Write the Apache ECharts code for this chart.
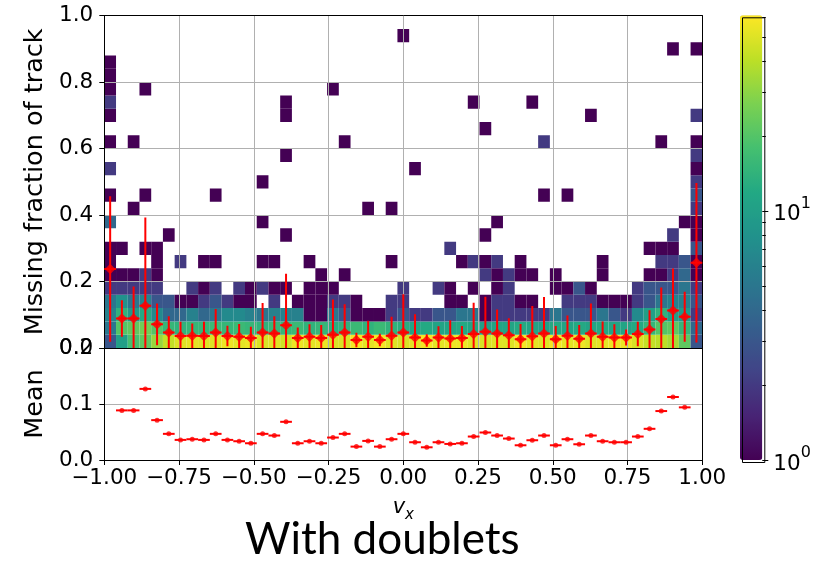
<!DOCTYPE html>
<html><head><meta charset="utf-8">
<script src="https://cdn.jsdelivr.net/npm/echarts@6/dist/echarts.min.js"></script>
<style>html,body{margin:0;padding:0;background:#fff}#c{width:823px;height:561px}</style>
</head><body><div id="c"></div>
<script>
// ---------------- data ----------------
const nXBins = 51;              // v_x bins over [-1, 1]
const nYBins = 25;              // missing-fraction bins over [0, 1]
const xRange = [-1, 1];
const yRange = [0, 1];
const colorbarMax = 61;         // top of the log colour scale

// counts of the 2D histogram, lowest five rows (0-0.04, ..., 0.16-0.20)
const countsRow0 = [3,10,18,22,32,42,50,52,50,50,55,52,55,48,50,45,55,52,55,48,48,58,52,58,50,48,52,58,52,55,55,50,48,50,50,58,52,50,58,52,55,50,52,55,55,48,42,40,35,22,3];
const countsRow1 = [5,20,22,25,20,15,14,15,15,16,15,16,15,14,15,15,16,14,15,13,14,16,14,16,14,13,11,12,11,11,12,11,10,11,11,12,11,10,12,11,12,11,12,11,11,12,15,20,22,15,4];
const countsRow2 = [6,14,9,12,7,4,4,6,4,5,7,7,6,5,6,6,6,1,1,5,3,1,1,1,2,3,2,2,3,3,5,5,1,2,2,2,2,2,5,3,3,3,5,3,2,7,10,14,10,9,2];
const countsRow3 = [5,8,5,6,3,3,1,1,2,3,2,1,1,0,2,0,1,1,1,2,2,1,0,0,2,2,0,0,0,1,1,0,1,2,2,1,1,0,0,2,2,2,1,1,1,2,3,5,6,6,3];
const countsRow4 = [2,2,2,2,2,0,0,2,1,2,0,2,1,2,1,1,0,1,1,1,0,0,0,0,0,2,0,0,2,1,0,1,0,1,2,0,0,0,1,1,3,1,0,0,0,2,3,3,3,5,2];
// sparse upper cells: [xBin, yBin, count]
const upperCells = [
 [0,5,1],[1,5,1],[2,5,1],[3,5,2],[4,5,1],[18,5,1],[20,5,1],[32,5,2],[33,5,1],[34,5,2],[35,5,1],[36,5,1],[38,5,1],[42,5,1],[46,5,1],[47,5,1],[48,5,2],[49,5,4],[50,5,1],
 [0,6,1],[4,6,1],[6,6,2],[8,6,1],[9,6,1],[13,6,1],[14,6,1],[17,6,1],[24,6,1],[30,6,1],[31,6,2],[32,6,1],[33,6,2],[35,6,1],[42,6,1],[47,6,2],[48,6,2],[49,6,3],[50,6,1],
 [0,7,1],[1,7,1],[3,7,1],[4,7,1],[29,7,2],[46,7,1],[47,7,1],[48,7,1],[50,7,3],
 [5,8,1],[15,8,1],[32,8,1],[48,8,2],[50,8,1],
 [0,9,4],[13,9,1],[33,9,1],[49,9,1],[50,9,1],
 [2,10,1],[22,10,1],[24,10,1],[50,10,2],
 [0,11,1],[3,11,1],[9,11,1],[37,11,1],[39,11,1],[50,11,3],
 [13,12,1],[50,12,2],
 [0,13,2],[26,13,1],[50,13,1],
 [15,14,1],[50,14,2],
 [0,15,1],[2,15,1],[20,15,1],[37,15,2],[47,15,1],[50,15,1],
 [32,16,1],
 [0,17,1],[15,17,1],[41,17,1],[50,17,2],
 [0,18,2],[15,18,1],[31,18,1],[36,18,1],
 [0,19,1],[3,19,1],[19,19,1],
 [0,20,1],[0,21,1],
 [48,22,1],[50,22,1],
 [25,23,1]
];
// profile: mean and std of missing fraction per v_x bin
const profileMean = [0.2376,0.0886,0.0886,0.127,0.0712,0.0467,0.0359,0.0371,0.0359,0.0467,0.0359,0.0335,0.0299,0.0467,0.0437,0.0682,0.0299,0.0335,0.0299,0.0401,0.0467,0.0239,0.0341,0.0239,0.0371,0.0467,0.0317,0.0227,0.0317,0.0287,0.0299,0.0419,0.0491,0.0437,0.0383,0.0263,0.0353,0.0437,0.0263,0.0371,0.0281,0.0437,0.0335,0.0317,0.0317,0.0419,0.0557,0.0874,0.1125,0.0940,0.2566];
const profileStd = [0.219,0.055,0.0965,0.266,0.063,0.049,0.043,0.037,0.043,0.071,0.031,0.039,0.034,0.089,0.052,0.155,0.032,0.038,0.039,0.106,0.085,0.022,0.048,0.019,0.057,0.115,0.070,0.019,0.034,0.055,0.036,0.094,0.105,0.072,0.051,0.046,0.091,0.110,0.040,0.061,0.041,0.090,0.046,0.040,0.024,0.037,0.058,0.095,0.127,0.075,0.240];
const colorbarMinor = [2,3,4,5,6,7,8,9,20,30,40,50,60];
const colorbarMajor = [1,10];

// ---------------- derived ----------------
const xBinW = (xRange[1]-xRange[0])/nXBins;
const yBinW = (yRange[1]-yRange[0])/nYBins;
const countRows = [countsRow0,countsRow1,countsRow2,countsRow3,countsRow4];
const cellData = [];
function addCell(i,j,c){
  if(c<=0) return;
  const x0 = xRange[0]+i*xBinW, y0 = yRange[0]+j*yBinW;
  cellData.push([x0, x0+xBinW, y0, y0+yBinW, Math.log10(c), c]);
}
countRows.forEach((row,j)=>row.forEach((c,i)=>addCell(i,j,c)));
upperCells.forEach(([i,j,c])=>addCell(i,j,c));
const centers = profileMean.map((_,i)=>xRange[0]+(i+0.5)*xBinW);
const profData = profileMean.map((m,i)=>[centers[i], m, profileStd[i], xBinW/2]);
const meanPts = profileMean.map((m,i)=>[centers[i], m]);

const viridis = ['#440154','#482475','#414487','#355f8d','#2a788e','#21918c','#22a884','#44bf70','#7ad151','#bddf26','#fde725'];
const FONT = 'DejaVu Sans';
const RED = '#ff0000';
const GRIDC = '#b0b0b0';
const fmtMinus = v => (v<0?'\u2212':'') + Math.abs(v).toFixed(2);

const G0 = {left:104.3, top:15.7, width:598, height:332.3};
const G1 = {left:104.3, top:348, width:598, height:112};
const GC = {left:740, top:15.3, width:22.3, height:444.7};

const chart = echarts.init(document.getElementById('c'), null, {renderer:'canvas'});
const TFS = 21.5;
const tickLbl = {fontFamily:FONT, fontSize:TFS, color:'#000'};
const cbLog = v => Math.log10(v);
const frameLine = {show:true, onZero:false, lineStyle:{color:'#000', width:1}};

const option = {
  animation:false,
  backgroundColor:'#fff',
  grid:[
    Object.assign({containLabel:false}, G0),
    Object.assign({containLabel:false}, G1),
    Object.assign({containLabel:false}, GC)
  ],
  xAxis:[
    {type:'value', gridIndex:0, min:-1, max:1, interval:0.25, z:3,
     axisLine:frameLine, axisTick:{show:false}, axisLabel:{show:false},
     splitLine:{show:true, lineStyle:{color:GRIDC, width:1}}},
    {type:'value', gridIndex:0, min:-1, max:1, position:'top', z:3,
     axisLine:frameLine, axisTick:{show:false}, axisLabel:{show:false}, splitLine:{show:false}},
    {type:'value', gridIndex:1, min:-1, max:1, interval:0.25, z:3,
     axisLine:frameLine,
     axisTick:{show:true, length:5, lineStyle:{color:'#000'}},
     axisLabel:Object.assign({margin:7, formatter:fmtMinus}, tickLbl),
     splitLine:{show:true, lineStyle:{color:GRIDC, width:1}},
     name:'{v|v}{s|x}', nameLocation:'middle', nameGap:37,
     nameTextStyle:{rich:{
       v:{fontFamily:FONT, fontStyle:'italic', fontSize:21, color:'#000', lineHeight:26, verticalAlign:'top'},
       s:{fontFamily:FONT, fontStyle:'italic', fontSize:15, color:'#000', lineHeight:15, verticalAlign:'bottom'}}}},
    {type:'value', gridIndex:2, min:0, max:1, show:false}
  ],
  yAxis:[
    {type:'value', gridIndex:0, min:0, max:1, interval:0.2, z:3,
     axisLine:frameLine,
     axisTick:{show:true, length:5, lineStyle:{color:'#000'}},
     axisLabel:Object.assign({margin:11, formatter:v=>v.toFixed(1)}, tickLbl),
     splitLine:{show:true, lineStyle:{color:GRIDC, width:1}},
     name:'Missing fraction of track', nameLocation:'middle', nameRotate:90, nameGap:50,
     nameTextStyle:{fontFamily:FONT, fontSize:25.5, color:'#000'}},
    {type:'value', gridIndex:0, min:0, max:1, position:'right', z:3,
     axisLine:frameLine, axisTick:{show:false}, axisLabel:{show:false}, splitLine:{show:false}},
    {type:'value', gridIndex:1, min:0, max:0.2, interval:0.1, z:3,
     axisLine:frameLine,
     axisTick:{show:true, length:5, lineStyle:{color:'#000'}},
     axisLabel:Object.assign({margin:11, formatter:v=>v.toFixed(1)}, tickLbl),
     splitLine:{show:true, lineStyle:{color:GRIDC, width:1}},
     name:'Mean', nameLocation:'middle', nameRotate:90, nameGap:50,
     nameTextStyle:{fontFamily:FONT, fontSize:25.5, color:'#000'}},
    {type:'value', gridIndex:1, min:0, max:0.2, position:'right', z:3,
     axisLine:frameLine, axisTick:{show:false}, axisLabel:{show:false}, splitLine:{show:false}},
    {type:'value', gridIndex:2, min:0, max:cbLog(colorbarMax), position:'right', z:6,
     axisLine:{show:false, onZero:false}, splitLine:{show:false},
     axisTick:{show:true, length:6, customValues:colorbarMajor.map(cbLog), lineStyle:{color:'#000'}},
     axisLabel:{show:true, margin:11, customValues:colorbarMajor.map(cbLog),
       formatter:v=>'{b|10}{s|'+Math.round(v)+'}',
       rich:{b:{fontFamily:FONT, fontSize:TFS, color:'#000', lineHeight:30, verticalAlign:'bottom'},
             s:{fontFamily:FONT, fontSize:16, color:'#000', lineHeight:16, verticalAlign:'top'}}}},
    {type:'value', gridIndex:2, min:0, max:cbLog(colorbarMax), position:'right', z:6,
     axisLine:{show:false, onZero:false}, splitLine:{show:false}, axisLabel:{show:false},
     axisTick:{show:true, length:3.5, customValues:colorbarMinor.map(cbLog), lineStyle:{color:'#000'}}}
  ],
  visualMap:{
    type:'continuous', seriesIndex:0, dimension:4, min:0, max:cbLog(colorbarMax),
    inRange:{color:viridis}, calculable:false, hoverLink:false,
    left:GC.left, top:GC.top, itemWidth:GC.width, itemHeight:GC.height, padding:0,
    orient:'vertical', text:null, showLabel:false
  },
  graphic:[
    {type:'rect', z:100, left:GC.left, top:GC.top, shape:{width:GC.width, height:GC.height},
     style:{fill:null, stroke:'#000', lineWidth:1}},
    {type:'text', z:100, left:245, top:518,
     style:{text:'With doublets', fontFamily:'Lato', fontSize:44, fill:'#000'}}
  ],
  series:[
    {type:'custom', name:'hist2d', xAxisIndex:0, yAxisIndex:0, z:1, clip:true,
     encode:{x:[0,1], y:[2,3]}, data:cellData, silent:true,
     renderItem:(params, api)=>{
       const p0 = api.coord([api.value(0), api.value(2)]);
       const p1 = api.coord([api.value(1), api.value(3)]);
       return {type:'rect', shape:{x:p0[0], y:p1[1], width:p1[0]-p0[0], height:p0[1]-p1[1]},
               style:{fill:api.visual('color')}};
     }},
    {type:'custom', name:'profile err', xAxisIndex:0, yAxisIndex:0, z:5, clip:true, silent:true,
     encode:{x:0, y:1}, data:profData,
     renderItem:(params, api)=>{
       const x=api.value(0), m=api.value(1), s=api.value(2), hw=api.value(3);
       const c=api.coord([x,m]), t=api.coord([x,m+s]), b=api.coord([x,m-s]);
       const l=api.coord([x-hw,m]), r=api.coord([x+hw,m]);
       return {type:'group', children:[
         {type:'line', shape:{x1:c[0],y1:t[1],x2:c[0],y2:b[1]}, style:{stroke:RED, lineWidth:2}},
         {type:'line', shape:{x1:l[0],y1:c[1],x2:r[0],y2:c[1]}, style:{stroke:RED, lineWidth:2}}
       ]};
     }},
    {type:'scatter', name:'profile mean', xAxisIndex:0, yAxisIndex:0, z:6, silent:true,
     symbol:'diamond', symbolSize:10.5, itemStyle:{color:RED}, data:meanPts},
    {type:'custom', name:'mean bars', xAxisIndex:2, yAxisIndex:2, z:5, clip:true, silent:true,
     encode:{x:0, y:1}, data:profData,
     renderItem:(params, api)=>{
       const x=api.value(0), m=api.value(1), hw=api.value(3);
       const l=api.coord([x-hw,m]), r=api.coord([x+hw,m]);
       return {type:'line', shape:{x1:l[0],y1:l[1],x2:r[0],y2:r[1]}, style:{stroke:RED, lineWidth:2}};
     }},
    {type:'scatter', name:'mean', xAxisIndex:2, yAxisIndex:2, z:6, silent:true, clip:true,
     symbol:'circle', symbolSize:5, itemStyle:{color:RED}, data:meanPts}
  ]
};
chart.setOption(option);
</script>
</body></html>
